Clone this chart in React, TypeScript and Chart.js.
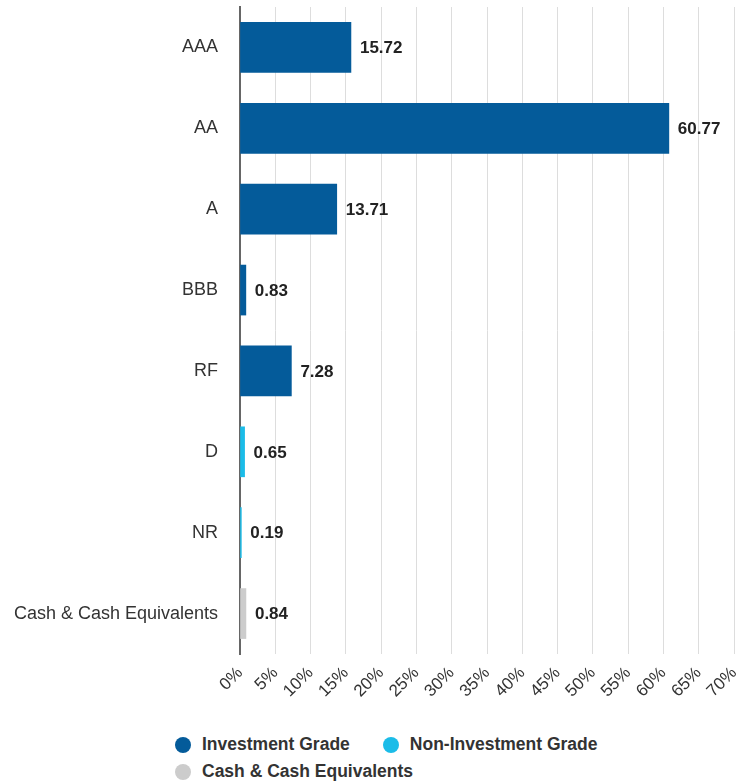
import React, { useEffect, useRef } from "react";
import { Chart, registerables } from "chart.js";

Chart.register(...registerables);

const categories = ["AAA", "AA", "A", "BBB", "RF", "D", "NR", "Cash & Cash Equivalents"];
const investmentGrade = [15.72, 60.77, 13.71, 0.83, 7.28, null, null, null];
const nonInvestmentGrade = [null, null, null, null, null, 0.65, 0.19, null];
const cashEquivalents = [null, null, null, null, null, null, null, 0.84];
const xTicks = [0, 5, 10, 15, 20, 25, 30, 35, 40, 45, 50, 55, 60, 65, 70];

const FONT = '"Liberation Sans", Arial, sans-serif';
const COLORS = { inv: "#045B9A", non: "#1BBCE8", cash: "#CCCCCC" };

const legendItems = [
  { label: "Investment Grade", color: COLORS.inv },
  { label: "Non-Investment Grade", color: COLORS.non },
  { label: "Cash & Cash Equivalents", color: COLORS.cash },
];

const valueLabels = {
  id: "valueLabels",
  afterDatasetsDraw(chart: any) {
    const ctx = chart.ctx;
    ctx.save();
    ctx.font = `bold 17px ${FONT}`;
    ctx.fillStyle = "#222";
    ctx.textAlign = "left";
    ctx.textBaseline = "middle";
    chart.data.datasets.forEach((ds: any, di: number) => {
      const meta = chart.getDatasetMeta(di);
      meta.data.forEach((el: any, i: number) => {
        const v = ds.data[i];
        if (v === null || v === undefined) return;
        ctx.fillText(v.toFixed(2), el.x + 9, el.y + 1);
      });
    });
    ctx.restore();
  },
};

export default function App() {
  const ref = useRef<HTMLCanvasElement | null>(null);
  useEffect(() => {
    if (!ref.current) return;
    const chart = new Chart(ref.current, {
      type: "bar",
      data: {
        labels: categories,
        datasets: [
          { label: "Investment Grade", data: investmentGrade, backgroundColor: COLORS.inv, barThickness: 50 },
          { label: "Non-Investment Grade", data: nonInvestmentGrade, backgroundColor: COLORS.non, barThickness: 50 },
          { label: "Cash & Cash Equivalents", data: cashEquivalents, backgroundColor: COLORS.cash, barThickness: 50 },
        ] as any,
      },
      options: {
        indexAxis: "y",
        animation: false,
        responsive: true,
        maintainAspectRatio: false,
        layout: { padding: { top: 7, right: 17, left: 0, bottom: 0 } },
        plugins: { legend: { display: false }, tooltip: { enabled: false } },
        scales: {
          x: {
            stacked: true,
            min: 0,
            max: 70,
            afterBuildTicks: (s: any) => {
              s.ticks = xTicks.map((v) => ({ value: v }));
            },
            afterFit: (s: any) => {
              s.height = 66;
              s.paddingLeft = 0;
              s.paddingRight = 0;
            },
            grid: { color: "#DDDDDD", lineWidth: 1, drawTicks: false },
            border: { display: false },
            ticks: {
              padding: 9,
              minRotation: 45,
              maxRotation: 45,
              autoSkip: false,
              color: "#333",
              font: { family: FONT, size: 17 },
              callback: (v: any) => `${v}%`,
            },
          },
          y: {
            stacked: true,
            afterFit: (s: any) => {
              s.width = 240;
              s.paddingTop = 0;
              s.paddingBottom = 0;
            },
            grid: { display: false, drawTicks: false },
            border: { display: true, color: "#666", width: 2 },
            ticks: {
              padding: 22,
              color: "#333",
              font: { family: FONT, size: 18 },
            },
          },
        },
      } as any,
      plugins: [valueLabels],
    });
    return () => chart.destroy();
  }, []);

  return (
    <div style={{ position: "absolute", left: 0, top: 0, width: 751, height: 784, background: "#fff" }}>
      <div style={{ position: "absolute", left: 0, top: 0, width: 751, height: 720 }}>
        <canvas ref={ref} />
      </div>
      <div
        style={{
          position: "absolute",
          left: 175,
          top: 731,
          width: 560,
          display: "flex",
          flexWrap: "wrap",
          fontFamily: FONT,
          fontWeight: "bold",
          fontSize: 17.5,
          color: "#333",
          lineHeight: "27px",
        }}
      >
        {legendItems.map((it, i) => (
          <div
            key={it.label}
            style={{
              display: "flex",
              alignItems: "center",
              marginRight: i === 0 ? 33 : 0,
              width: i === 1 ? 300 : undefined,
            }}
          >
            <span
              style={{
                display: "inline-block",
                width: 16,
                height: 16,
                borderRadius: "50%",
                background: it.color,
                marginRight: 11,
              }}
            />
            <span>{it.label}</span>
          </div>
        ))}
      </div>
    </div>
  );
}
